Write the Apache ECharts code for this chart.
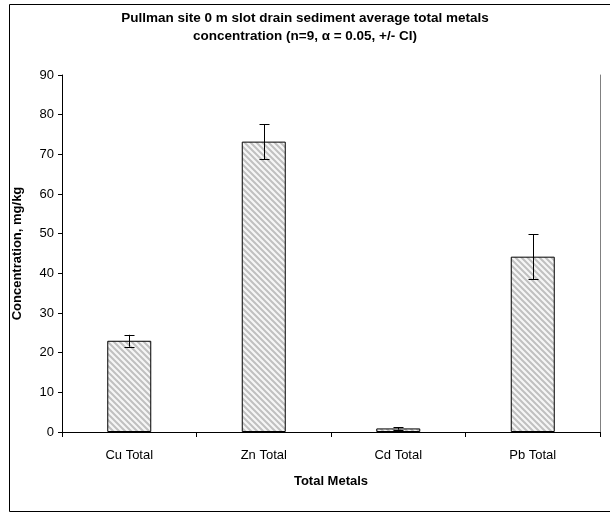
<!DOCTYPE html>
<html>
<head>
<meta charset="utf-8">
<script src="https://cdn.jsdelivr.net/npm/echarts@6/dist/echarts.min.js"></script>
<style>
html,body{margin:0;padding:0;background:#fff;}
#c{width:610px;height:512px;}
</style>
</head>
<body>
<div id="c"></div>
<script>
var categories = ['Cu Total', 'Zn Total', 'Cd Total', 'Pb Total'];
var means = [23.0, 73.2, 0.9, 44.2];
var ciHalf = [1.5, 4.4, 0.3, 5.7];
var yTicks = [0, 10, 20, 30, 40, 50, 60, 70, 80, 90];

function makePattern() {
  var s = 6;
  var cv = document.createElement('canvas');
  cv.width = s; cv.height = s;
  var ctx = cv.getContext('2d');
  ctx.fillStyle = '#f6f6f6';
  ctx.fillRect(0, 0, s, s);
  ctx.strokeStyle = '#c0c0c0';
  ctx.lineWidth = 2;
  ctx.beginPath();
  ctx.moveTo(-s, -s); ctx.lineTo(2 * s, 2 * s);
  ctx.moveTo(0, -s); ctx.lineTo(2 * s, s);
  ctx.moveTo(-s, 0); ctx.lineTo(s, 2 * s);
  ctx.stroke();
  return cv;
}

var errData = means.map(function (m, i) { return [i, m - ciHalf[i], m + ciHalf[i]]; });

var chart = echarts.init(document.getElementById('c'), null, { renderer: 'canvas' });
var font = 'Liberation Sans, Arial, sans-serif';
chart.setOption({
  animation: false,
  backgroundColor: '#fff',
  textStyle: { fontFamily: font },
  title: {
    text: 'Pullman site 0 m slot drain sediment average total metals\nconcentration (n=9, \u03b1 = 0.05, +/- CI)',
    left: 'center', top: 4,
    textStyle: { fontFamily: font, fontSize: 13.5, fontWeight: 'bold', color: '#000', lineHeight: 18 }
  },
  graphic: [{
    type: 'rect', left: 7, top: 2, z: -1,
    shape: { width: 601, height: 507 },
    style: { fill: 'none', stroke: '#000', lineWidth: 1 }
  }],
  grid: { left: 62, right: 10, top: 75, bottom: 80 },
  xAxis: [{
    type: 'category', data: categories, position: 'bottom',
    axisLine: { lineStyle: { color: '#000', width: 1 } },
    axisTick: { show: true, length: 5, lineStyle: { color: '#000' } },
    axisLabel: { color: '#000', fontSize: 13, margin: 17, fontFamily: font },
    name: 'Total Metals', nameLocation: 'middle', nameGap: 43,
    nameTextStyle: { fontSize: 13, fontWeight: 'bold', color: '#000', fontFamily: font }
  }, {
    type: 'category', data: categories, position: 'top',
    axisLine: { lineStyle: { color: '#000' } },
    axisTick: { show: false }, axisLabel: { show: false }
  }],
  yAxis: [{
    type: 'value', min: 0, max: 90, interval: 10,
    axisLine: { show: true, lineStyle: { color: '#000' } },
    axisTick: { show: true, length: 4, lineStyle: { color: '#000' } },
    axisLabel: { color: '#000', fontSize: 13, margin: 8, fontFamily: font,
      formatter: function (v) { return yTicks.indexOf(v) >= 0 ? String(v) : ''; } },
    splitLine: { show: false },
    name: 'Concentration, mg/kg', nameLocation: 'middle', nameGap: 38, nameRotate: 90,
    nameTextStyle: { fontSize: 13, fontWeight: 'bold', color: '#000', fontFamily: font }
  }, {
    type: 'value', min: 0, max: 90, interval: 10, position: 'right',
    axisLine: { show: true, lineStyle: { color: '#808080' } },
    axisTick: { show: false }, axisLabel: { show: false }, splitLine: { show: false }
  }],
  series: [{
    type: 'bar', data: means, barWidth: 44, xAxisIndex: 0, yAxisIndex: 0,
    itemStyle: { color: { image: makePattern(), repeat: 'repeat' }, borderColor: '#000', borderWidth: 1 }
  }, {
    type: 'custom', xAxisIndex: 0, yAxisIndex: 0, z: 5,
    data: errData,
    renderItem: function (params, api) {
      var x = api.value(0);
      var lo = api.coord([x, api.value(1)]);
      var hi = api.coord([x, api.value(2)]);
      var cx = Math.round(lo[0]) + 0.5;
      var w = 5;
      var st = { stroke: '#000', lineWidth: 1 };
      return {
        type: 'group', children: [
          { type: 'line', shape: { x1: cx, y1: hi[1], x2: cx, y2: lo[1] }, style: st },
          { type: 'line', shape: { x1: cx - w, y1: Math.round(hi[1]) + 0.5, x2: cx + w, y2: Math.round(hi[1]) + 0.5 }, style: st },
          { type: 'line', shape: { x1: cx - w, y1: Math.round(lo[1]) + 0.5, x2: cx + w, y2: Math.round(lo[1]) + 0.5 }, style: st }
        ]
      };
    }
  }]
});
</script>
</body>
</html>
